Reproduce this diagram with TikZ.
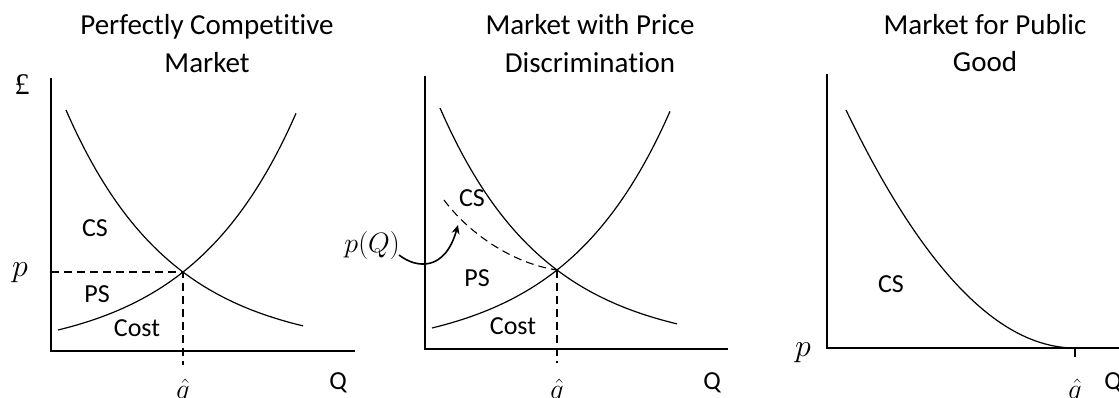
\documentclass[tikz,border=0pt]{standalone}
\usepackage{fix-cm}
\usepackage{fontspec}
\setmainfont[Ligatures={NoCommon}]{Carlito}
\newfontfamily\poundfont{Liberation Serif}
\usetikzlibrary{arrows.meta}
\begin{document}
\begin{tikzpicture}[x=1pt,y=1pt,
  axis/.style={line width=1.6pt},
  curve/.style={line width=1.2pt},
  guide/.style={line width=1.1pt, dash pattern=on 8pt off 5pt},
  lab/.style={font=\fontsize{26}{30}\selectfont, inner sep=0pt, anchor=base},
  mlab/.style={font=\fontsize{28}{32}\selectfont, inner sep=0pt, anchor=base},
  plab/.style={font=\fontsize{32}{36}\selectfont, inner sep=0pt, anchor=base},
  ttl/.style={font=\fontsize{29}{36}\selectfont, inner sep=0pt, anchor=base}]
\useasboundingbox (0,0) rectangle (1119,398);

% titles
\node[ttl] (t1a) at (207,363) {Perfectly Competitive};
\node[ttl] (t1b) at (207,325) {Market};
\node[ttl] (t2a) at (590,363) {Market with Price};
\node[ttl] (t2b) at (590,325) {Discrimination};
\node[ttl] (t3a) at (985,363) {Market for Public};
\node[ttl] (t3b) at (985,326) {Good};

% panel 1
\begin{scope}[shift={(51,47)}]
  \draw[axis] (0,273) -- (0,0) -- (304,0);
  \draw[curve] plot[domain=15:252, samples=80] (\x, {241*exp(-0.00953*(\x-15))});
  \draw[curve] plot[domain=7:245, samples=80] (\x, {25.9*exp(0.009405*(\x-7))-4.9});
  \coordinate (e1) at (132,79);
  \draw[guide] (0,79) -- (e1) -- (132,-14);
  \node[lab, font=\fontsize{30}{34}\poundfont] (pound) at (-29,256) {£};
  \node[plab] (p1) at (-31,74) {$p$};
  \node[lab] (cs1) at (44,114) {CS};
  \node[lab] (ps1) at (46,48) {PS};
  \node[lab] (cost1) at (86,14) {Cost};
  \node[mlab] (qh1) at (132,-48) {$\hat{q}$};
  \node[lab] (Q1) at (287,-39) {Q};
\end{scope}

% panel 2
\begin{scope}[shift={(425,49)}]
  \draw[axis] (0,273) -- (0,0) -- (303,0);
  \draw[curve] plot[domain=15:252, samples=80] (\x, {241*exp(-0.00953*(\x-15))});
  \draw[curve] plot[domain=7:245, samples=80] (\x, {25.9*exp(0.009405*(\x-7))-4.9});
  \coordinate (e2) at (132,79);
  \draw[guide] (e2) -- (132,-14);
  \draw[guide] (19,149) .. controls (42,118) and (85,86) .. (e2);
  \coordinate (tip) at (33,124);
  \node[mlab, anchor=base east] (pq) at (-25,96) {$p(Q)$};
  \draw[line width=1.6pt, -{Stealth[length=9pt,width=8pt]}] ([xshift=-1pt,yshift=-2pt]pq.base east) .. controls (-8,80) and (20,78) .. (tip);
  \node[lab] (cs2) at (47,142) {CS};
  \node[lab] (ps2) at (52,62) {PS};
  \node[lab] (cost2) at (88,14) {Cost};
  \node[mlab] (qh2) at (132,-50) {$\hat{q}$};
  \node[lab] (Q2) at (287,-41) {Q};
\end{scope}

% panel 3
\begin{scope}[shift={(827,50)}]
  \draw[axis] (0,274) -- (0,0) -- (300,0);
  \draw[curve] plot[domain=19:248, samples=80] (\x, {238*((248-\x)/229)^2});
  \coordinate (qt) at (248,0);
  \draw[axis] (qt) -- (248,-9);
  \node[plab] (p3) at (-24,-9) {$p$};
  \node[lab] (cs3) at (64,55) {CS};
  \node[mlab] (qh3) at (248,-51) {$\hat{q}$};
  \node[lab] (Q3) at (286,-42) {Q};
\end{scope}
\end{tikzpicture}
\end{document}
